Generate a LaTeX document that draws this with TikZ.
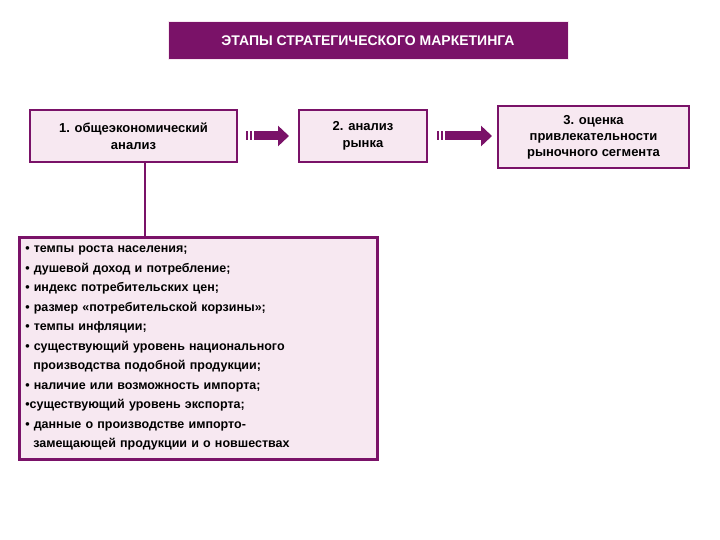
\documentclass[tikz,border=0pt]{standalone}
\usepackage{fontspec}
\setmainfont{Liberation Sans}
\usetikzlibrary{arrows.meta}
\definecolor{pur}{HTML}{7A1268}
\definecolor{pk}{HTML}{F7E8F1}
\begin{document}
\begin{tikzpicture}[x=1pt,y=-1pt,
  box/.style={draw=pur,line width=2.5pt,fill=pk,font=\bfseries\fontsize{13}{17}\selectfont,align=center,inner sep=0pt},
  barrow/.style={draw=pur,line width=9pt,-{Triangle[length=11pt,width=20pt]}}]
\useasboundingbox (0,0) rectangle (720,540);
\node[fill=pur,draw=pk,line width=1pt,minimum width=400pt,minimum height=38pt,text=white,font=\bfseries\fontsize{14}{17}\selectfont] (t) at (368,41) {ЭТАПЫ СТРАТЕГИЧЕСКОГО МАРКЕТИНГА};
\node[box,minimum width=207pt,minimum height=52pt] (b1) at (133.5,136) {1. общеэкономический\\анализ};
\node[box,minimum width=128pt,minimum height=52pt] (b2) at (363,136) {2. анализ\\рынка};
\node[box,minimum width=191pt,minimum height=62pt,font=\bfseries\fontsize{13}{16}\selectfont] (b3) at (593.5,137) {3. оценка\\привлекательности\\рыночного сегмента};
\node[box,minimum width=358pt,minimum height=222pt,font=\bfseries\fontsize{12.5}{19.5}\selectfont,align=left,anchor=north west,inner sep=0pt,text width=358pt] (l) at (18,236) {\hspace*{6pt}\begin{minipage}[t]{350pt}\vspace*{0pt}
• темпы роста населения;\\
• душевой доход и потребление;\\
• индекс потребительских цен;\\
• размер «потребительской корзины»;\\
• темпы инфляции;\\
• существующий уровень национального\\
\hspace*{8pt}производства подобной продукции;\\
• наличие или возможность импорта;\\
•существующий уровень экспорта;\\
• данные о производстве импорто-\\
\hspace*{8pt}замещающей продукции и о новшествах\end{minipage}};
\draw[pur,line width=2.5pt] (145,162) -- (l.north -| 145,0);
\coordinate (a1s) at (254,136); \coordinate (a1e) at (289,136);
\coordinate (a2s) at (445,136); \coordinate (a2e) at (492,136);
\draw[barrow] (a1s) -- (a1e);
\draw[barrow] (a2s) -- (a2e);
\foreach \x in {247,251}{\draw[pur,line width=2pt] (\x,131.5) -- (\x,140.5);}
\foreach \x in {438,442}{\draw[pur,line width=2pt] (\x,131.5) -- (\x,140.5);}
\end{tikzpicture}
\end{document}
